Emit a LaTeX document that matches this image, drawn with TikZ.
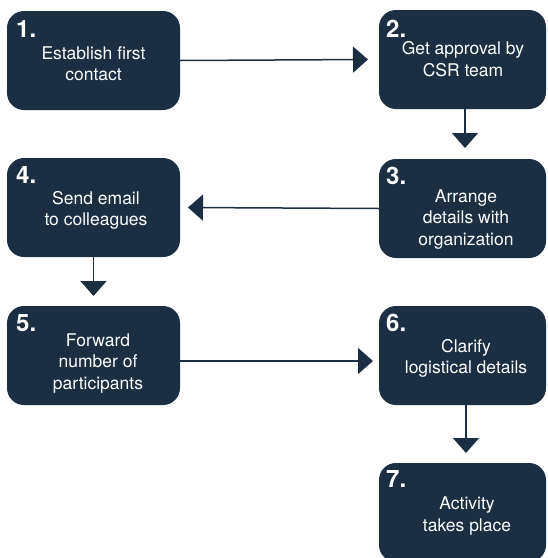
\documentclass[tikz,border=0pt]{standalone}
\usepackage{fontspec}
\setmainfont{TeX Gyre Heros}
\usetikzlibrary{arrows.meta}
\definecolor{navy}{RGB}{27,46,66}
\tikzset{
  stepbox/.style={draw=none, fill=navy, rounded corners=17pt, inner sep=0pt, outer sep=0pt},
  leftbox/.style={stepbox, minimum width=173pt, minimum height=99pt},
  rightbox/.style={stepbox, minimum width=167pt, minimum height=99pt},
  num/.style={text=white, font=\fontsize{24}{24}\selectfont\bfseries, inner sep=0pt, anchor=base west},
  lbl/.style={text=white, font=\fontsize{17.5}{21.5}\selectfont, inner sep=0pt, align=center, anchor=base},
  arr/.style={draw=navy, line width=1.5pt, -{Triangle[length=15pt,width=26pt]}}
}
\begin{document}
\begin{tikzpicture}[x=1pt,y=-1pt]
\useasboundingbox (0,0) rectangle (548,558);
\clip (0,0) rectangle (548,558);
% boxes
\node[leftbox]  (b1) at (93.5,60.5) {};
\node[rightbox] (b2) at (462.5,59.5) {};
\node[rightbox] (b3) at (462.5,208.5) {};
\node[leftbox]  (b4) at (93.5,207.5) {};
\node[leftbox]  (b5) at (93.5,355.5) {};
\node[rightbox] (b6) at (462.5,355.5) {};
\node[rightbox] (b7) at (462.5,512.5) {};
% numbers
\node[num] (n1) at (16,37) {1.};
\node[num] (n2) at (386,37) {2.};
\node[num] (n3) at (386,184) {3.};
\node[num] (n4) at (16,183) {4.};
\node[num] (n5) at (16,331) {5.};
\node[num] (n6) at (386,331) {6.};
\node[num] (n7) at (386,487) {7.};
% labels (anchor base = baseline of last line)
\node[lbl] (t1) at (93.5,80.5) {Establish first\\contact};
\node[lbl] (t2) at (463,76) {Get approval by\\CSR team};
\node[lbl] (t3) at (466,245) {Arrange\\details with\\organization};
\node[lbl] (t4) at (96,225.5) {Send email\\to colleagues};
\node[lbl] (t5) at (98,389) {Forward\\number of\\participants};
\node[lbl] (t6) at (466,373.5) {Clarify\\logistical details};
\node[lbl] (t7) at (467,531) {Activity\\takes place};
% connectors
\draw[arr] (b1.east) -- ([xshift=-11pt]b2.west);
\draw[arr] ([xshift=2.5pt]b2.south) -- ([xshift=2.5pt,yshift=11pt]b3.north);
\draw[arr] (b3.west) -- ([xshift=8pt]b4.east);
\draw[arr] (b4.south) -- ([yshift=10pt]b5.north);
\draw[arr] ([yshift=-5.5pt]b5.east) -- ([xshift=-6pt,yshift=-5.5pt]b6.west);
\draw[arr] ([xshift=3.5pt]b6.south) -- ([xshift=3.5pt,yshift=10pt]b7.north);
\end{tikzpicture}
\end{document}
